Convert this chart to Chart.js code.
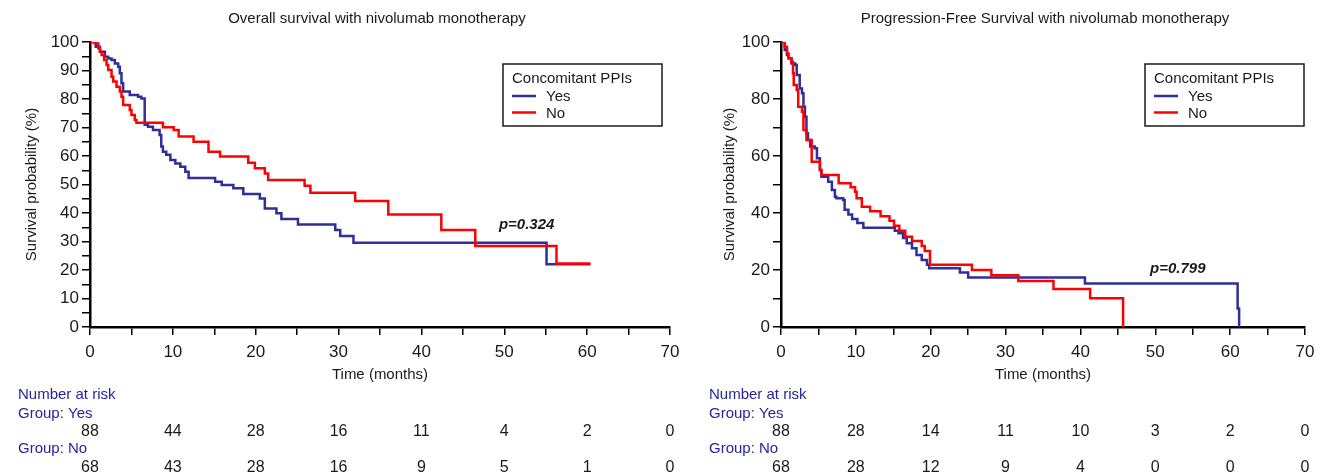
<!DOCTYPE html>
<html>
<head>
<meta charset="utf-8">
<script src="https://cdn.jsdelivr.net/npm/chart.js@4.4.1/dist/chart.umd.min.js"></script>
<style>
  body { margin: 0; background: #fff; }
  #wrap { position: relative; width: 1326px; height: 476px; }
  #osChart { position: absolute; left: 0; top: 0; }
  #pfsChart { position: absolute; left: 680px; top: 0; }
</style>
</head>
<body>
<div id="wrap">
  <canvas id="osChart" width="680" height="476"></canvas>
  <canvas id="pfsChart" width="646" height="476"></canvas>
</div>
<script>
// ---- data ----
const groups = ['Yes', 'No'];
const riskMonths = [0, 10, 20, 30, 40, 50, 60, 70];

// overall survival, PPI yes
const osYesTime = [0, 0.7, 1.2, 1.8, 2.2, 2.6, 3.0, 3.4, 3.6, 3.8, 4.0, 4.8, 5.8, 6.2, 6.6, 7.0, 7.6, 8.4, 8.6, 8.8, 9.2, 9.7, 10.3, 10.9, 11.5, 11.9, 15.1, 15.9, 17.3, 18.5, 20.5, 21.1, 22.5, 23.1, 25.1, 29.6, 30.2, 31.8, 55.1, 60.4];
const osYesSurv = [100, 98.3, 96.6, 94.8, 94.2, 93.7, 92.5, 91.3, 89.0, 85.5, 82.6, 81.4, 80.8, 80.2, 71.0, 70.3, 69.1, 67.4, 63.3, 61.5, 60.4, 58.6, 57.4, 56.2, 54.5, 52.3, 51.0, 49.8, 48.7, 46.7, 45.1, 41.6, 39.9, 37.9, 36.0, 34.0, 31.9, 29.6, 22.0, 22.0];
// overall survival, PPI no
const osNoTime = [0, 0.6, 1.0, 1.2, 1.4, 1.7, 2.0, 2.2, 2.6, 2.8, 3.2, 3.6, 3.8, 4.0, 4.8, 5.0, 5.4, 5.6, 8.8, 10.1, 10.7, 12.5, 14.3, 15.7, 19.1, 19.9, 21.1, 21.5, 25.9, 26.6, 32.0, 36.0, 42.4, 46.5, 56.3, 60.4];
const osNoSurv = [100, 99.5, 97.8, 96.6, 95.4, 93.7, 91.9, 90.2, 87.8, 86.1, 84.3, 82.6, 80.8, 77.9, 76.1, 74.4, 72.6, 71.7, 70.1, 69.1, 66.8, 65.0, 61.5, 59.8, 57.6, 55.7, 53.9, 51.6, 49.6, 47.1, 44.2, 39.5, 34.0, 28.4, 22.3, 22.3];

// progression-free survival, PPI yes
const pfsYesTime = [0, 0.5, 0.8, 1.0, 1.4, 1.9, 2.1, 2.5, 2.8, 3.0, 3.2, 3.4, 3.6, 3.9, 4.5, 4.8, 5.2, 5.4, 6.3, 6.8, 7.2, 7.4, 8.3, 8.5, 9.0, 9.5, 10.2, 11.0, 15.2, 15.7, 16.3, 16.8, 17.5, 18.1, 18.8, 19.5, 19.8, 23.9, 25.0, 40.6, 61.0, 61.2];
const pfsYesSurv = [100, 97.2, 95.4, 94.3, 92.5, 91.9, 88.4, 83.7, 82.0, 77.3, 73.8, 68.0, 65.6, 63.3, 62.7, 59.2, 55.1, 52.7, 51.0, 48.1, 45.7, 45.2, 44.6, 41.1, 39.5, 37.9, 36.5, 34.8, 33.8, 32.9, 31.2, 29.4, 27.6, 25.3, 23.5, 21.8, 20.6, 19.1, 17.4, 15.3, 6.5, 0];
// progression-free survival, PPI no
const pfsNoTime = [0, 0.5, 0.8, 1.0, 1.4, 1.6, 1.7, 2.1, 2.3, 2.8, 3.0, 3.4, 4.1, 5.2, 5.4, 7.7, 9.3, 9.9, 10.1, 10.8, 11.9, 13.3, 14.5, 15.1, 15.8, 16.6, 17.5, 18.8, 19.2, 19.9, 25.5, 28.1, 31.7, 36.4, 41.3, 45.7];
const pfsNoSurv = [100, 98.3, 96.0, 94.3, 93.1, 89.0, 84.9, 83.2, 77.3, 75.5, 69.1, 65.6, 58.0, 55.1, 53.3, 50.4, 49.0, 47.5, 45.2, 42.2, 40.6, 38.9, 37.3, 35.5, 33.8, 31.7, 30.2, 28.4, 26.7, 21.8, 20.0, 18.2, 16.1, 13.3, 10.1, 0];

// number at risk
const osRiskYes = [88, 44, 28, 16, 11, 4, 2, 0];
const osRiskNo = [68, 43, 28, 16, 9, 5, 1, 0];
const pfsRiskYes = [88, 28, 14, 11, 10, 3, 2, 0];
const pfsRiskNo = [68, 28, 12, 9, 4, 0, 0, 0];

const osP = 'p=0.324';
const pfsP = 'p=0.799';

// ---- styling ----
const FONT = "'Liberation Sans', Arial, sans-serif";
const BLUE = '#2e2e9c';
const RED = '#ff0000';
const NAVY = '#25259c';
const INK = '#1a1a1a';

function toPoints(t, s) {
  return t.map(function(x, i) { return {x: x, y: s[i]}; });
}

const kmExtras = {
  id: 'kmExtras',
  afterDraw(chart, args, opts) {
    const ctx = chart.ctx;
    const area = chart.chartArea;
    const xs = chart.scales.x, ys = chart.scales.y;
    ctx.save();
    ctx.fillStyle = INK;
    ctx.textBaseline = 'alphabetic';

    // chart title
    ctx.font = '15px ' + FONT;
    ctx.textAlign = 'center';
    ctx.fillText(opts.title, (area.left + area.right) / 2 + opts.titleDx, 23);

    // p value
    ctx.font = 'italic bold 15px ' + FONT;
    ctx.textBaseline = 'middle';
    ctx.fillText(opts.pText, xs.getPixelForValue(opts.pAt[0]), ys.getPixelForValue(opts.pAt[1]));

    // legend box
    const bx = area.right + opts.legendDx, by = 64, bw = 159, bh = 62;
    ctx.strokeStyle = INK;
    ctx.lineWidth = 1.5;
    ctx.strokeRect(bx, by, bw, bh);
    ctx.textAlign = 'left';
    ctx.font = '15px ' + FONT;
    ctx.fillText('Concomitant PPIs', bx + 9, by + 15);
    chart.data.datasets.forEach(function(ds, i) {
      const y = by + 32 + i * 16.5;
      ctx.strokeStyle = ds.borderColor;
      ctx.lineWidth = 2.5;
      ctx.beginPath();
      ctx.moveTo(bx + 9, y);
      ctx.lineTo(bx + 33, y);
      ctx.stroke();
      ctx.fillStyle = INK;
      ctx.fillText(ds.label, bx + 43, y + 1);
    });

    // number at risk table
    ctx.textBaseline = 'alphabetic';
    const lx = area.left - 72;
    ctx.fillStyle = NAVY;
    ctx.font = '15px ' + FONT;
    ctx.fillText('Number at risk', lx, 399);
    ctx.fillText('Group: ' + groups[0], lx, 418);
    ctx.fillText('Group: ' + groups[1], lx, 453);
    ctx.fillStyle = INK;
    ctx.font = '16px ' + FONT;
    ctx.textAlign = 'center';
    riskMonths.forEach(function(m, i) {
      const px = xs.getPixelForValue(m);
      ctx.fillText(String(opts.riskYes[i]), px, 436);
      ctx.fillText(String(opts.riskNo[i]), px, 472);
    });
    ctx.restore();
  }
};

function makeKM(canvasId, cfg) {
  const axisTicks = {color: INK, font: {family: FONT, size: 17}, autoSkip: false, maxRotation: 0};
  const tickGrid = {drawOnChartArea: false, drawTicks: true, tickLength: 8, color: '#000', lineWidth: 1.5};
  return new Chart(document.getElementById(canvasId), {
    type: 'line',
    data: {
      datasets: [
        {label: groups[0], data: toPoints(cfg.yesT, cfg.yesS), borderColor: BLUE, borderWidth: 2.5, order: 1},
        {label: groups[1], data: toPoints(cfg.noT, cfg.noS), borderColor: RED, borderWidth: 2.5, order: 0}
      ]
    },
    options: {
      responsive: false,
      animation: false,
      events: [],
      elements: {
        line: {stepped: 'before', tension: 0, fill: false},
        point: {radius: 0}
      },
      layout: {padding: {left: 0, top: 42, right: cfg.padRight, bottom: 89}},
      plugins: {
        legend: {display: false},
        tooltip: {enabled: false},
        kmExtras: {
          title: cfg.title, titleDx: cfg.titleDx, pText: cfg.pText, pAt: cfg.pAt, legendDx: cfg.legendDx,
          riskYes: cfg.riskYes, riskNo: cfg.riskNo
        }
      },
      scales: {
        x: {
          type: 'linear', min: 0, max: 70,
          afterFit: function(s) { s.height = 60; s.paddingLeft = 0; s.paddingRight = 0; },
          border: {color: '#000', width: 2.5},
          grid: tickGrid,
          ticks: Object.assign({}, axisTicks, {stepSize: 5, padding: 7,
            callback: function(v) { return v % 10 === 0 ? String(v) : ''; }}),
          title: {display: true, text: 'Time (months)', color: INK, font: {family: FONT, size: 15}, padding: {top: 0, bottom: 3}}
        },
        y: {
          type: 'linear', min: 0, max: 100,
          afterFit: function(s) { s.width = cfg.yWidth; s.paddingTop = 0; s.paddingBottom = 0; },
          border: {color: '#000', width: 2.5},
          grid: tickGrid,
          ticks: Object.assign({}, axisTicks, {stepSize: cfg.yStep, padding: 3,
            callback: function(v) { return v % cfg.yLabelEvery === 0 ? String(v) : ''; }}),
          title: {display: true, text: 'Survival probability (%)', color: INK, font: {family: FONT, size: 15}, padding: {top: cfg.yTitlePad, bottom: 0}}
        }
      }
    },
    plugins: [kmExtras]
  });
}

makeKM('osChart', {
  title: 'Overall survival with nivolumab monotherapy', titleDx: -3,
  yesT: osYesTime, yesS: osYesSurv, noT: osNoTime, noS: osNoSurv,
  riskYes: osRiskYes, riskNo: osRiskNo,
  pText: osP, pAt: [52.7, 35.8],
  yWidth: 90, yTitlePad: 23, yStep: 5, yLabelEvery: 10,
  padRight: 10, legendDx: -167
});

makeKM('pfsChart', {
  title: 'Progression-Free Survival with nivolumab monotherapy', titleDx: 2,
  yesT: pfsYesTime, yesS: pfsYesSurv, noT: pfsNoTime, noS: pfsNoSurv,
  riskYes: pfsRiskYes, riskNo: pfsRiskNo,
  pText: pfsP, pAt: [53.0, 20.4],
  yWidth: 101, yTitlePad: 41, yStep: 10, yLabelEvery: 20,
  padRight: 21, legendDx: -160
});
</script>
</body>
</html>
